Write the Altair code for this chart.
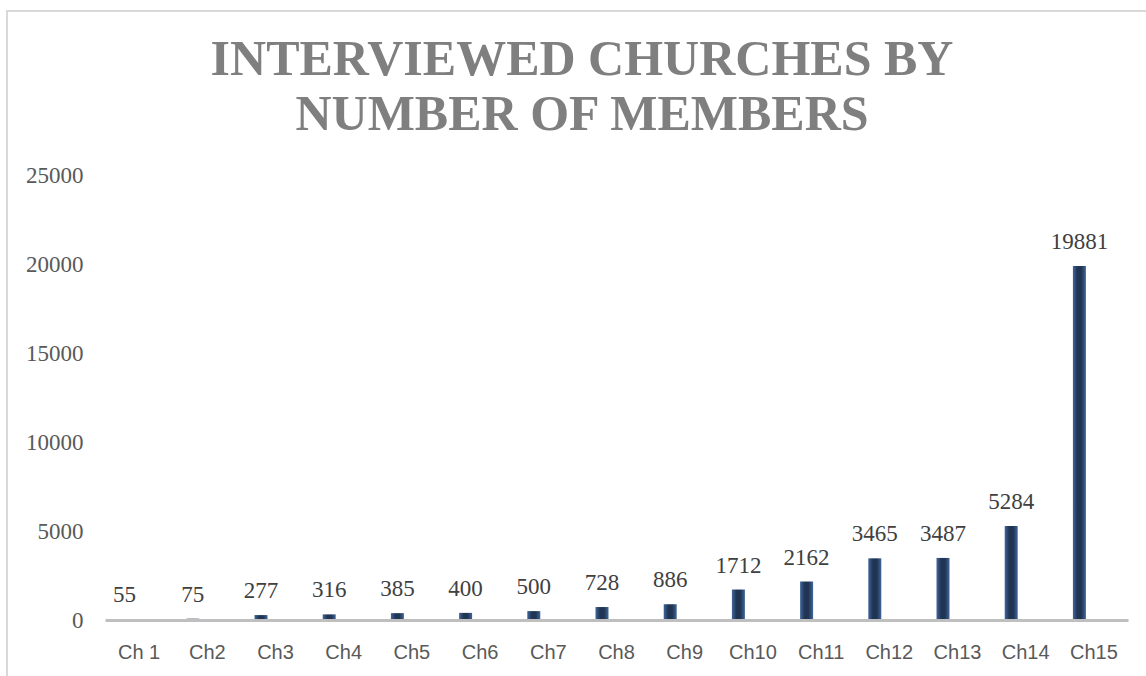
import altair as alt
import pandas as pd

categories = ["Ch 1", "Ch2", "Ch3", "Ch4", "Ch5", "Ch6", "Ch7", "Ch8",
              "Ch9", "Ch10", "Ch11", "Ch12", "Ch13", "Ch14", "Ch15"]
members = [55, 75, 277, 316, 385, 400, 500, 728, 886, 1712, 2162, 3465, 3487, 5284, 19881]
y_ticks = [0, 5000, 10000, 15000, 20000, 25000]
title_lines = ["INTERVIEWED CHURCHES BY", "NUMBER OF MEMBERS"]

df = pd.DataFrame({"church": categories, "members": members})

x_enc = alt.X("church:N", sort=categories,
              scale=alt.Scale(paddingInner=0, paddingOuter=0),
              axis=alt.Axis(title=None, labelAngle=0, ticks=False,
                            domainColor="#bfbfbf", domainWidth=3,
                            labelFont="Liberation Sans", labelFontSize=20,
                            labelColor="#595959", labelPadding=22, zindex=1))
y_enc = alt.Y("members:Q", scale=alt.Scale(domain=[0, 25000], nice=False),
              axis=alt.Axis(title=None, values=y_ticks, domain=False, ticks=False,
                            grid=False, labelFont="Liberation Serif", labelFontSize=23,
                            labelColor="#595959", labelPadding=22, format="d"))

grad = alt.Gradient(
    gradient="linear",
    stops=[alt.GradientStop(color="#41659a", offset=0),
           alt.GradientStop(color="#1f3553", offset=0.35),
           alt.GradientStop(color="#1f3553", offset=0.65),
           alt.GradientStop(color="#41659a", offset=1)],
    x1=0, x2=1, y1=0, y2=0)

base = alt.Chart(df)
bars = base.mark_bar(width=13, xOffset=-14.5, color=grad).encode(x=x_enc, y=y_enc)
labels = base.mark_text(xOffset=-14.5, dy=-17, baseline="alphabetic",
                        font="Liberation Serif", fontSize=23, color="#404040").encode(
    x=alt.X("church:N", sort=categories), y="members:Q", text="members:Q")

border = alt.Chart(pd.DataFrame({"b": [0]})).mark_rect(
    fillOpacity=0, stroke="#d9d9d9", strokeWidth=2).encode(
    x=alt.value(-98), x2=alt.value(1200), y=alt.value(-164), y2=alt.value(700))

title = alt.Chart(pd.DataFrame({"b": [0]})).mark_text(
    font="Liberation Serif", fontSize=50, fontWeight="bold", color="#7f7f7f",
    align="center", baseline="alphabetic", lineHeight=55).encode(
    x=alt.value(477), y=alt.value(-100), text=alt.value(title_lines))

chart = alt.layer(border, bars, labels, title).properties(
    width=1023, height=445,
    autosize=alt.AutoSizeParams(type="none"),
    padding={"left": 105, "top": 175, "right": 18, "bottom": 56},
    background="white",
).configure_view(stroke=None)

chart.save("out.html", embed_options={"renderer": "svg", "actions": False})
